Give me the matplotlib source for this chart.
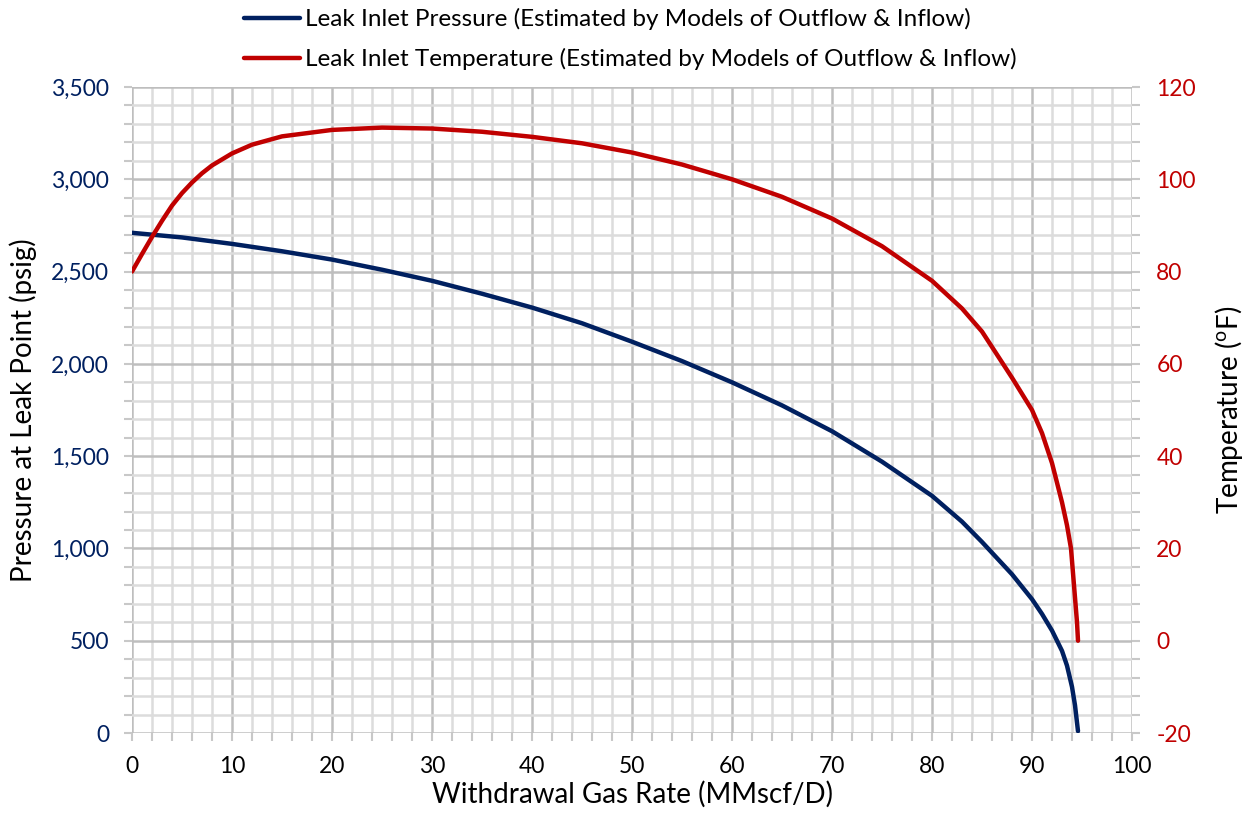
import matplotlib
matplotlib.use("Agg")
import matplotlib.pyplot as plt
from matplotlib.ticker import MultipleLocator, FuncFormatter

# Data
x_pressure = [0, 5, 10, 15, 20, 25, 30, 35, 40, 45, 50, 55, 60, 65, 70, 75, 80, 83, 85, 88, 90, 91, 92, 93,
              93.5, 94, 94.3, 94.6]
pressure = [2710, 2685, 2650, 2610, 2565, 2510, 2450, 2380, 2305, 2220, 2120, 2015, 1900, 1775, 1635, 1470,
            1285, 1145, 1035, 860, 725, 645, 555, 445, 365, 250, 150, 10]

x_temp = [0, 1, 2, 3, 4, 5, 6, 7, 8, 10, 12, 15, 20, 25, 30, 35, 40, 45, 50, 55, 60, 65, 70, 75, 80, 83, 85,
          88, 90, 91, 92, 93, 93.5, 93.9, 94.2, 94.5, 94.6]
temperature = [80, 83.8, 87.5, 91, 94.3, 97, 99.3, 101.3, 103, 105.6, 107.5, 109.3, 110.7, 111.2, 111, 110.3,
               109.2, 107.8, 105.8, 103.2, 100, 96.2, 91.5, 85.5, 78, 72, 67, 57, 50, 45, 38.5, 30, 25, 20,
               12, 4, 0]

label_p = "Leak Inlet Pressure (Estimated by Models of Outflow & Inflow)"
label_t = "Leak Inlet Temperature (Estimated by Models of Outflow & Inflow)"

navy = "#002060"
red = "#C00000"
font = ["Lato", "DejaVu Sans"]
plt.rcParams["font.family"] = font
plt.rcParams["axes.unicode_minus"] = False

fig = plt.figure(figsize=(12.51, 8.15), dpi=100)
ax = fig.add_axes([132/1251, 1-733/815, 1000/1251, 646/815])
ax2 = ax.twinx()

ax.set_xlim(0, 100)
ax.set_ylim(0, 3500)
ax2.set_ylim(-20, 120)

ax.xaxis.set_major_locator(MultipleLocator(10))
ax.xaxis.set_minor_locator(MultipleLocator(2))
ax.yaxis.set_major_locator(MultipleLocator(500))
ax.yaxis.set_minor_locator(MultipleLocator(100))
ax2.yaxis.set_major_locator(MultipleLocator(20))
ax2.yaxis.set_minor_locator(MultipleLocator(4))
ax.yaxis.set_major_formatter(FuncFormatter(lambda v, p: f"{int(v):,}"))

ax.grid(which="minor", color="#DCDCDC", lw=1.8, zorder=0)
ax.grid(which="major", color="#BEBEBE", lw=1.8, zorder=0)
ax.set_axisbelow(True)

for a in (ax, ax2):
    for s in a.spines.values():
        s.set_visible(False)

ax.tick_params(axis="both", which="both", direction="out", color="#C8C8C8", width=1.5, length=5.5, labelsize=16.5)
ax.tick_params(axis="y", labelcolor=navy, pad=11)
ax.tick_params(axis="x", labelcolor="black", pad=11)
ax2.tick_params(axis="y", which="both", direction="out", color="#C8C8C8", width=1.5, length=5.5,
                labelsize=16.5, labelcolor=red, pad=12)

l1, = ax.plot(x_pressure, pressure, color=navy, lw=3.2, label=label_p, solid_capstyle="round",
              solid_joinstyle="round", zorder=3)
l2, = ax2.plot(x_temp, temperature, color=red, lw=3.2, label=label_t, solid_capstyle="round",
               solid_joinstyle="round", zorder=3)

ax.set_xlabel("Withdrawal Gas Rate (MMscf/D)", fontsize=20, labelpad=3)
ax.set_ylabel("Pressure at Leak Point (psig)", fontsize=20, labelpad=10)
ax2.set_ylabel(r"Temperature ($\mathregular{^{o}}$F)", fontsize=20, labelpad=12)

fig.legend(handles=[l1, l2], loc="upper left", bbox_to_anchor=(222/1251, 1.017), frameon=False,
           fontsize=17.5, handlelength=2.3, handletextpad=0.2, labelspacing=0.75)

fig.savefig("out.png", dpi=100)
